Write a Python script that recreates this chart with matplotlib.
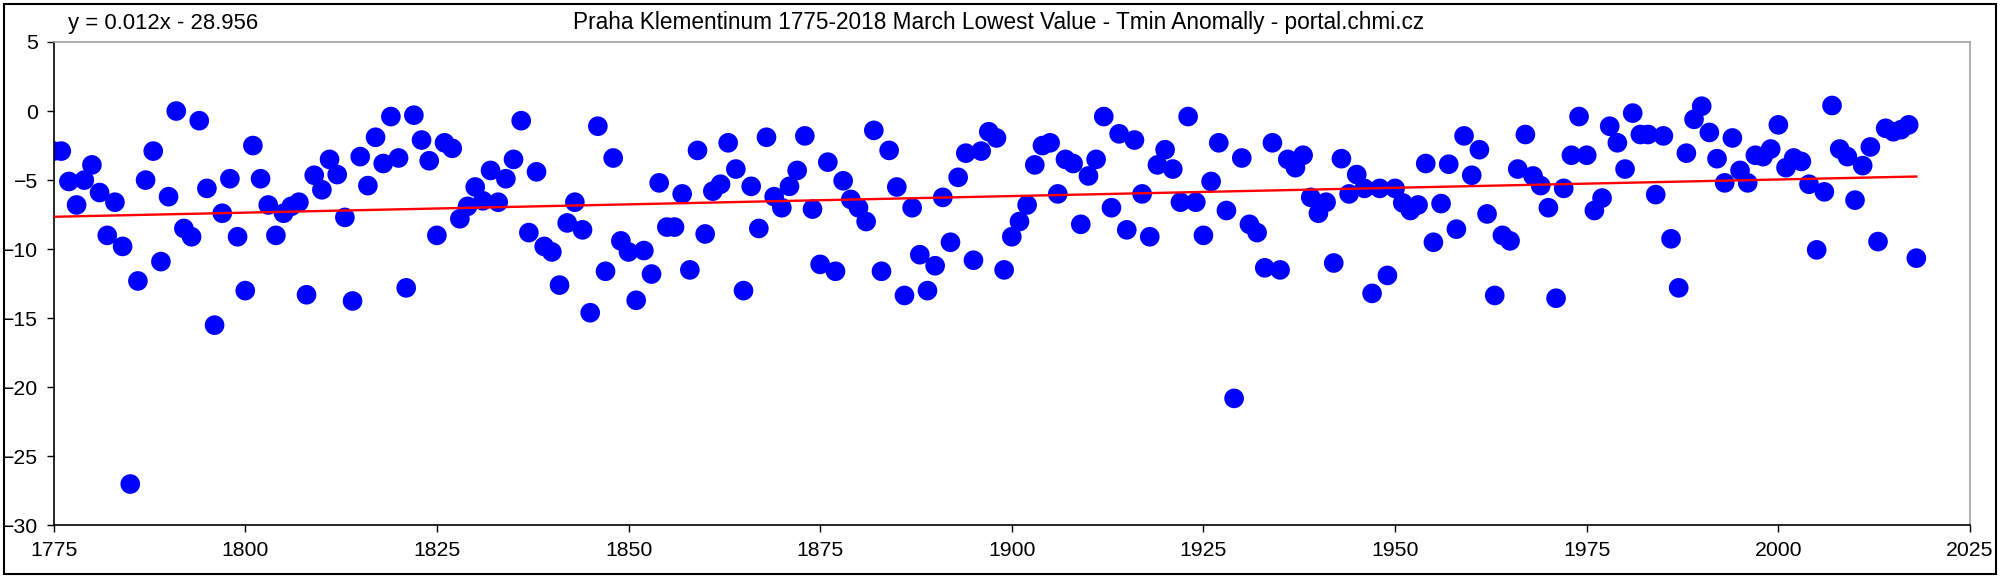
import numpy as np
import matplotlib
matplotlib.use("Agg")
from matplotlib import pyplot as plt
from matplotlib.patches import Rectangle

plt.rcParams['font.family'] = ['Liberation Sans', 'DejaVu Sans']

# March lowest Tmin anomaly, Praha Klementinum
years = np.arange(1775, 2019)
tmin = [
    -2.9, -2.9, -5.1, -6.8, -5.0, -3.9, -5.9, -9.0, -6.6, -9.8,      # 1775
    -27.0, -12.3, -5.0, -2.9, -10.9, -6.2, 0.0, -8.5, -9.1, -0.7,    # 1785
    -5.6, -15.5, -7.4, -4.9, -9.1, -13.0, -2.5, -4.9, -6.8, -9.0,    # 1795
    -7.4, -6.9, -6.6, -13.3, -4.65, -5.7, -3.5, -4.6, -7.7, -13.75,  # 1805
    -3.3, -5.4, -1.9, -3.8, -0.4, -3.4, -12.8, -0.3, -2.1, -3.6,     # 1815
    -9.0, -2.3, -2.7, -7.8, -6.9, -5.5, -6.5, -4.3, -6.6, -4.9,      # 1825
    -3.5, -0.7, -8.8, -4.4, -9.8, -10.2, -12.6, -8.1, -6.6, -8.6,    # 1835
    -14.6, -1.1, -11.6, -3.4, -9.4, -10.2, -13.7, -10.1, -11.8, -5.2,  # 1845
    -8.4, -8.4, -6.0, -11.5, -2.85, -8.9, -5.8, -5.3, -2.3, -4.2,    # 1855
    -13.0, -5.45, -8.5, -1.9, -6.2, -7.0, -5.45, -4.3, -1.8, -7.1,   # 1865
    -11.1, -3.7, -11.6, -5.05, -6.4, -7.0, -8.0, -1.4, -11.6, -2.85,  # 1875
    -5.5, -13.35, -7.0, -10.4, -13.0, -11.2, -6.25, -9.5, -4.8, -3.05,  # 1885
    -10.8, -2.9, -1.5, -1.95, -11.5, -9.1, -8.0, -6.8, -3.9, -2.5,   # 1895
    -2.3, -6.0, -3.5, -3.8, -8.2, -4.7, -3.5, -0.4, -7.0, -1.65,     # 1905
    -8.6, -2.1, -6.0, -9.1, -3.9, -2.8, -4.2, -6.6, -0.4, -6.6,      # 1915
    -9.0, -5.1, -2.3, -7.2, -20.8, -3.4, -8.2, -8.8, -11.35, -2.3,   # 1925
    -11.5, -3.5, -4.1, -3.2, -6.25, -7.4, -6.6, -11.0, -3.45, -6.0,  # 1935
    -4.6, -5.6, -13.2, -5.6, -11.9, -5.6, -6.65, -7.2, -6.8, -3.8,   # 1945
    -9.5, -6.7, -3.85, -8.55, -1.8, -4.65, -2.8, -7.45, -13.35, -9.0,  # 1955
    -9.4, -4.2, -1.7, -4.7, -5.4, -7.0, -13.55, -5.6, -3.2, -0.4,    # 1965
    -3.2, -7.2, -6.3, -1.1, -2.3, -4.2, -0.15, -1.7, -1.7, -6.05,    # 1975
    -1.8, -9.25, -12.8, -3.05, -0.6, 0.35, -1.55, -3.45, -5.2, -1.95,  # 1985
    -4.3, -5.2, -3.2, -3.3, -2.75, -1.0, -4.1, -3.4, -3.65, -5.3,    # 1995
    -10.05, -5.85, 0.4, -2.75, -3.3, -6.45, -3.95, -2.6, -9.45, -1.25,  # 2005
    -1.5, -1.35, -1.0, -10.65,                                       # 2015
]

# trend line as printed on the chart
slope = 0.012
intercept = -28.956

xticks = [1775, 1800, 1825, 1850, 1875, 1900, 1925, 1950, 1975, 2000, 2025]
yticks = [5, 0, -5, -10, -15, -20, -25, -30]

fig = plt.figure(figsize=(20, 5.77), dpi=100)
ax = fig.add_axes([0.0268, 0.0893, 0.9582, 0.838])

ax.scatter(years, tmin, s=200, color='#0000ff', edgecolors='none', zorder=2)
trend_x = np.array([years[0], years[-1]])
ax.plot(trend_x, slope * trend_x + intercept, color='#ff0000', lw=1.7, zorder=3)

ax.set_xlim(1775, 2025)
ax.set_ylim(-30, 5)
ax.set_xticks(xticks)
ax.set_yticks(yticks)
ax.tick_params(direction='out', length=5, width=1, labelsize=15.3, pad=6)

for side in ['top', 'right']:
    ax.spines[side].set_color('#a0a0a0')
    ax.spines[side].set_linewidth(1.2)
for side in ['left', 'bottom']:
    ax.spines[side].set_color('black')
    ax.spines[side].set_linewidth(1.2)

# texts, sized so their widths match the original (title ~852 px, equation ~190 px)
title = fig.text(0.4995, 0.949, 'Praha Klementinum 1775-2018 March Lowest Value - Tmin Anomally - portal.chmi.cz',
                 ha='center', va='baseline', fontsize=15)
eq = fig.text(0.034, 0.949, 'y = 0.012x - 28.956', ha='left', va='baseline', fontsize=15)
r = fig.canvas.get_renderer()
for t, w in [(title, 852), (eq, 190)]:
    t.set_fontsize(15 * w / t.get_window_extent(r).width)

fig.patches.append(Rectangle((0.002, 0.005), 0.996, 0.988, transform=fig.transFigure,
                             fill=False, edgecolor='black', lw=1.5))

fig.savefig('out.png', dpi=100)
